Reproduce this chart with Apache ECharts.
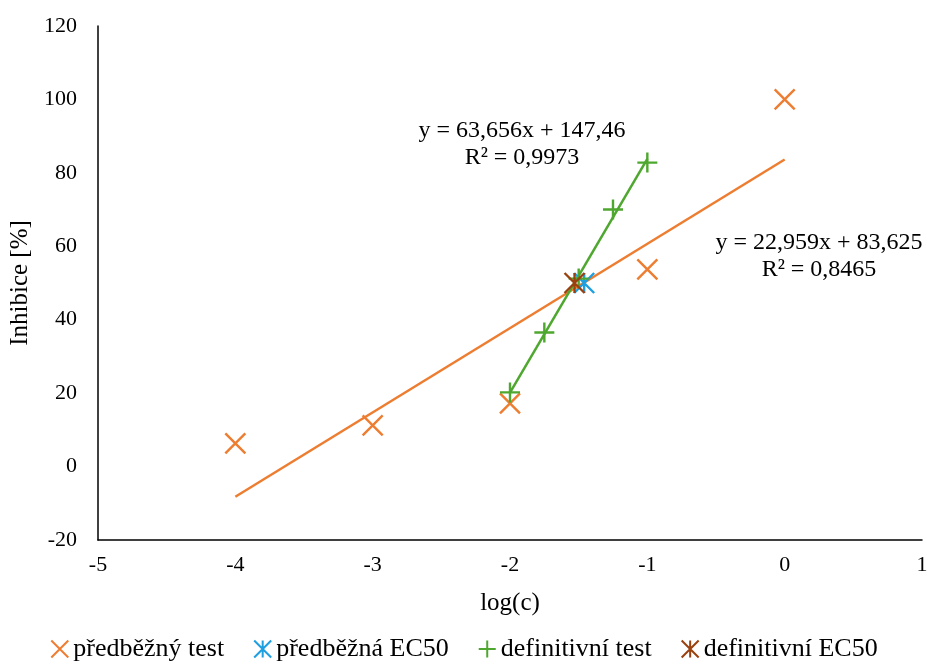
<!DOCTYPE html>
<html>
<head>
<meta charset="utf-8">
<script src="https://cdn.jsdelivr.net/npm/echarts@6/dist/echarts.min.js"></script>
<style>
  html, body { margin: 0; padding: 0; background: #fff; }
  #chart { width: 928px; height: 664px; }
</style>
</head>
<body>
<div id="chart"></div>
<script>
// předběžný test
const preX = [-4, -3, -2, -1, 0];
const preY = [6.3, 11.2, 17.2, 53.7, 100];
// předběžná EC50
const preEcX = [-1.46];
const preEcY = [50];
// definitivní test
const defX = [-2, -1.75, -1.5, -1.25, -1];
const defY = [20.2, 36.5, 51.2, 70, 82.8];
// definitivní EC50
const defEcX = [-1.53];
const defEcY = [50];

// trend lines (Excel)
const preSlope = 22.959, preIntercept = 83.625;
const defSlope = 63.656, defIntercept = 147.46;

const font = 'Liberation Serif, Times New Roman, serif';
const xSym = 'path://M0,0L10,10M10,0L0,10';
const starSym = 'path://M0,0L10,10M10,0L0,10M5,0L5,10';
const plusSym = 'path://M5,0L5,10M0,5L10,5';

const zip = (xs, ys) => xs.map((x, i) => [x, ys[i]]);
const trend = (xs, k, q) => [xs[0], xs[xs.length - 1]].map(x => [x, k * x + q]);

const chart = echarts.init(document.getElementById('chart'));

const markerSeries = (name, data, symbol, color) => ({
    name: name,
    type: 'scatter',
    data: data,
    symbol: symbol,
    symbolSize: 20,
    z: 3,
    itemStyle: { color: 'transparent', borderColor: color, borderWidth: 2.4, opacity: 1 }
});

const options = {
    animation: false,
    textStyle: { fontFamily: font },
    grid: { left: 98, right: 6, top: 26, bottom: 124, outerBoundsMode: 'none', containLabel: false },
    xAxis: {
        type: 'value',
        min: -5, max: 1, interval: 1,
        name: 'log(c)',
        nameLocation: 'middle',
        nameGap: 51,
        nameTextStyle: { color: '#000', fontSize: 25, fontFamily: font },
        axisLine: { show: true, onZero: false, lineStyle: { color: '#000', width: 1.5 } },
        axisTick: { show: false },
        splitLine: { show: false },
        axisLabel: { color: '#000', fontSize: 22, fontFamily: font, margin: 14 }
    },
    yAxis: {
        type: 'value',
        min: -20, max: 120, interval: 20,
        name: 'Inhibice [%]',
        nameLocation: 'middle',
        nameGap: 60,
        nameTextStyle: { color: '#000', fontSize: 25, fontFamily: font },
        axisLine: { show: true, onZero: false, lineStyle: { color: '#000', width: 1.5 } },
        axisTick: { show: false },
        splitLine: { show: false },
        axisLabel: { color: '#000', fontSize: 22, fontFamily: font, margin: 21 }
    },
    legend: {
        top: 631,
        left: 'center',
        itemWidth: 17,
        itemHeight: 17,
        itemGap: 29,
        textStyle: { color: '#000', fontSize: 26, fontFamily: font },
        data: ['předběžný test', 'předběžná EC50', 'definitivní test', 'definitivní EC50']
    },
    series: [
        {
            name: 'trend pre',
            type: 'line',
            data: trend(preX, preSlope, preIntercept),
            symbol: 'none',
            z: 2,
            lineStyle: { color: '#ED7D31', width: 2.5 }
        },
        {
            name: 'trend def',
            type: 'line',
            data: trend(defX, defSlope, defIntercept),
            symbol: 'none',
            z: 2,
            lineStyle: { color: '#4EA72E', width: 2.5 }
        },
        markerSeries('předběžný test', zip(preX, preY), xSym, '#ED7D31'),
        markerSeries('předběžná EC50', zip(preEcX, preEcY), starSym, '#1E9FE0'),
        markerSeries('definitivní test', zip(defX, defY), plusSym, '#4EA72E'),
        markerSeries('definitivní EC50', zip(defEcX, defEcY), starSym, '#9A410F')
    ],
    graphic: [
        {
            type: 'text', x: 522, y: 117,
            style: {
                text: 'y = 63,656x + 147,46\nR² = 0,9973',
                fill: '#000', font: '24px ' + font, lineHeight: 27, align: 'center'
            }
        },
        {
            type: 'text', x: 819, y: 229,
            style: {
                text: 'y = 22,959x + 83,625\nR² = 0,8465',
                fill: '#000', font: '24px ' + font, lineHeight: 27, align: 'center'
            }
        }
    ]
};
chart.setOption(options);
</script>
</body>
</html>
